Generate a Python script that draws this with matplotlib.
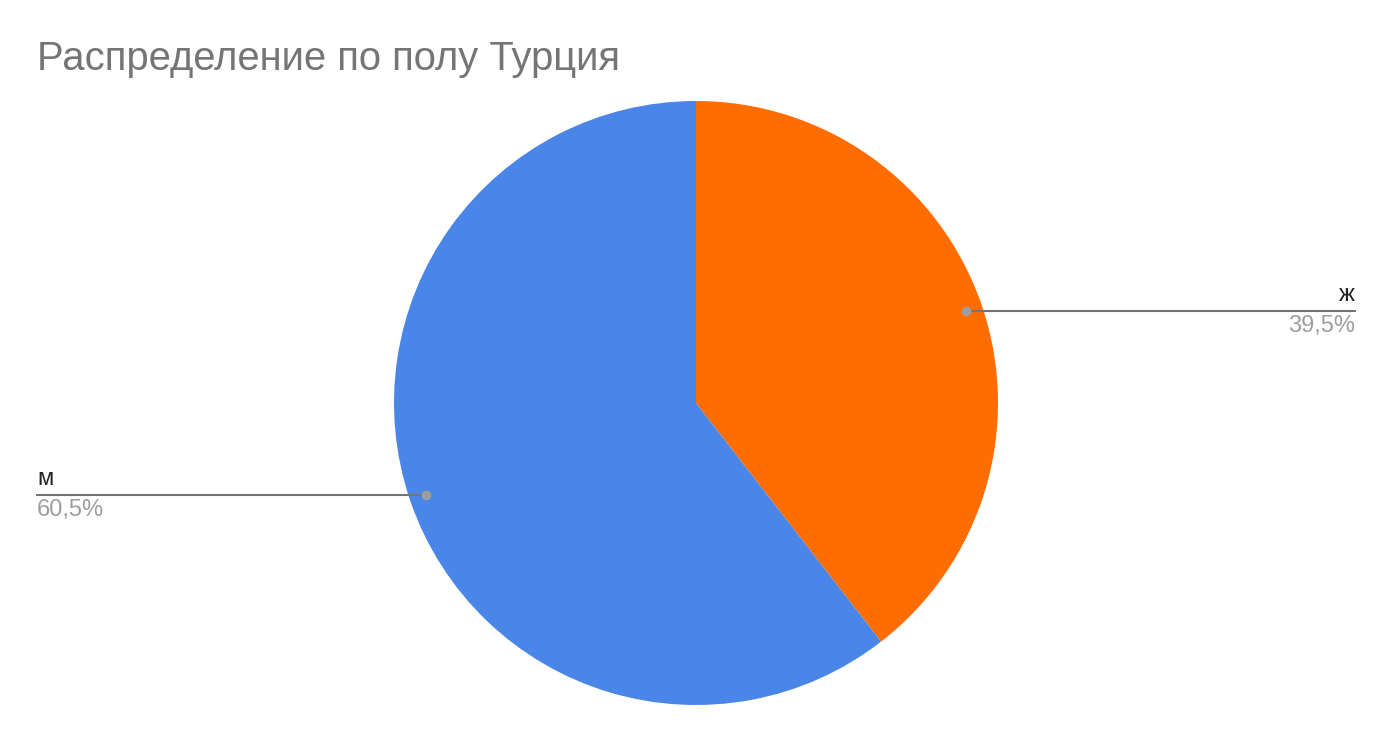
import matplotlib.pyplot as plt
import numpy as np

plt.rcParams['font.family'] = ['Liberation Sans', 'DejaVu Sans']

# data
labels = ["ж", "м"]
shares = [39.5, 60.5]
colors = ["#ff6d01", "#4a86e8"]
title = "Распределение по полу Турция"

W, H = 1391, 742
fig = plt.figure(figsize=(W / 100, H / 100), dpi=100)
ax = fig.add_axes([0, 0, 1, 1])

cx, cy, R = 696, H - 403, 302
wedges, _ = ax.pie(shares, colors=colors, startangle=90, counterclock=False,
                   center=(cx, cy), radius=R, frame=True,
                   wedgeprops=dict(linewidth=0))
ax.set_xlim(0, W)
ax.set_ylim(0, H)
ax.axis("off")

# callouts
for w, lab, val in zip(wedges, labels, shares):
    ang = np.deg2rad((w.theta1 + w.theta2) / 2)
    px = cx + 0.945 * R * np.cos(ang)
    py = cy + 0.945 * R * np.sin(ang)
    right = np.cos(ang) > 0
    ex = 1355 if right else 37
    ha = "right" if right else "left"
    ax.plot([px, ex], [py, py], color="#757575", lw=1.5, zorder=3)
    ax.plot(px, py, "o", color="#9e9e9e", ms=6, zorder=4)
    ax.text(ex, py + 5, lab, ha=ha, va="bottom", fontsize=17, color="#222222")
    pct = f"{val:.1f}%".replace(".", ",")
    ax.text(ex, py - 4, pct, ha=ha, va="top", fontsize=17, color="#9e9e9e")

fig.text(37 / W, 1 - 70 / H, title, fontsize=28.8, color="#757575",
         ha="left", va="baseline")

fig.savefig("out.png", dpi=100)
